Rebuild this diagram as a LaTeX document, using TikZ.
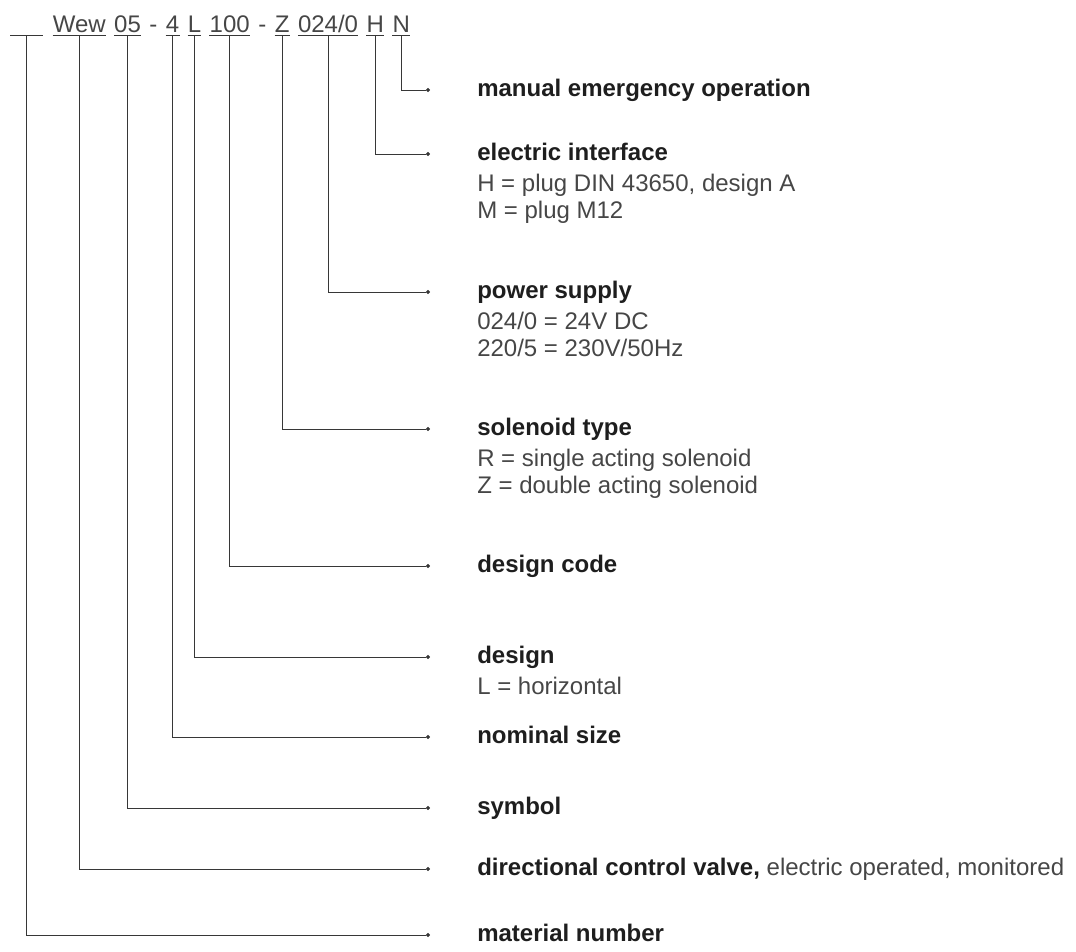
\documentclass[tikz,border=0pt]{standalone}
\usepackage{fontspec}
\setmainfont{Liberation Sans}
\usetikzlibrary{positioning,arrows.meta}
\definecolor{linegray}{RGB}{55,55,55}
\definecolor{textgray}{RGB}{70,70,70}
\definecolor{headgray}{RGB}{30,30,30}
\newcommand{\entryhead}[1]{{\color{headgray}\bfseries #1}}
\newcommand{\entryblock}[1]{\begin{tabular}[t]{@{}l@{}}#1\end{tabular}}

\begin{document}
\begin{tikzpicture}[
    x=0.75pt, y=-0.75pt,
    seg/.style={inner sep=0pt, text height=13pt, text depth=2.5pt, font=\fontsize{18}{22}\selectfont, text=textgray},
    uline/.style={draw=linegray, line width=0.7pt},
    conn/.style={draw=linegray, line width=0.7pt, -{Circle[length=3pt]}},
    entry/.style={anchor=base west, inner sep=0pt, font=\fontsize{18}{20.25}\selectfont, text=textgray}
]
\useasboundingbox (0,0) rectangle (1076,951);

% type code along the top
\node[seg, anchor=base west, minimum width=24pt] (matno) at (10,32) {};
\node[seg, base right=7.5pt of matno] (valve) {Wew};
\node[seg, base right=6pt of valve] (sym) {05};
\node[seg, base right=6pt of sym] (dashA) {-};
\node[seg, base right=6pt of dashA] (nsize) {4};
\node[seg, base right=6pt of nsize] (dsgn) {L};
\node[seg, base right=6pt of dsgn] (dcode) {100};
\node[seg, base right=6pt of dcode] (dashB) {-};
\node[seg, base right=6pt of dashB] (sol) {Z};
\node[seg, base right=6pt of sol] (volt) {024/0};
\node[seg, base right=6pt of volt] (plug) {H};
\node[seg, base right=6pt of plug] (emerg) {N};

\draw[uline] (matno.south west) -- (matno.south east);
\draw[uline] (valve.south west) -- (valve.south east);
\draw[uline] (sym.south west) -- (sym.south east);
\draw[uline] (nsize.south west) -- (nsize.south east);
\draw[uline] (dsgn.south west) -- (dsgn.south east);
\draw[uline] (dcode.south west) -- (dcode.south east);
\draw[uline] (sol.south west) -- (sol.south east);
\draw[uline] (volt.south west) -- (volt.south east);
\draw[uline] (plug.south west) -- (plug.south east);
\draw[uline] (emerg.south west) -- (emerg.south east);

% line ends
\coordinate (tipEmerg) at (430,90);
\coordinate (tipPlug) at (430,154);
\coordinate (tipVolt) at (430,292);
\coordinate (tipSol) at (430,429);
\coordinate (tipDcode) at (430,566);
\coordinate (tipDsgn) at (430,657);
\coordinate (tipNsize) at (430,737);
\coordinate (tipSym) at (430,808);
\coordinate (tipValve) at (430,869);
\coordinate (tipMat) at (430,935);

\draw[conn] (emerg.south) |- (tipEmerg);
\draw[conn] (plug.south) |- (tipPlug);
\draw[conn] (volt.south) |- (tipVolt);
\draw[conn] (sol.south) |- (tipSol);
\draw[conn] (dcode.south) |- (tipDcode);
\draw[conn] (dsgn.south) |- (tipDsgn);
\draw[conn] (nsize.south) |- (tipNsize);
\draw[conn] (sym.south) |- (tipSym);
\draw[conn] (valve.south) |- (tipValve);
\draw[conn] (matno.south) |- (tipMat);

% descriptions
\node[entry] (lblEmerg) at (477,96) {\entryhead{manual emergency operation}};
\node[entry] (lblPlug) at (477,160) {\entryblock{\entryhead{electric interface}\\[3pt] H = plug DIN 43650, design A\\ M = plug M12}};
\node[entry] (lblVolt) at (477,298) {\entryblock{\entryhead{power supply}\\[3pt] 024/0 = 24V DC\\ 220/5 = 230V/50Hz}};
\node[entry] (lblSol) at (477,435) {\entryblock{\entryhead{solenoid type}\\[3pt] R = single acting solenoid\\ Z = double acting solenoid}};
\node[entry] (lblDcode) at (477,572) {\entryhead{design code}};
\node[entry] (lblDsgn) at (477,663) {\entryblock{\entryhead{design}\\[3pt] L = horizontal}};
\node[entry] (lblNsize) at (477,743) {\entryhead{nominal size}};
\node[entry] (lblSym) at (477,814) {\entryhead{symbol}};
\node[entry] (lblValve) at (477,875) {\entryhead{directional control valve,} electric operated, monitored};
\node[entry] (lblMat) at (477,941) {\entryhead{material number}};

\end{tikzpicture}
\end{document}
